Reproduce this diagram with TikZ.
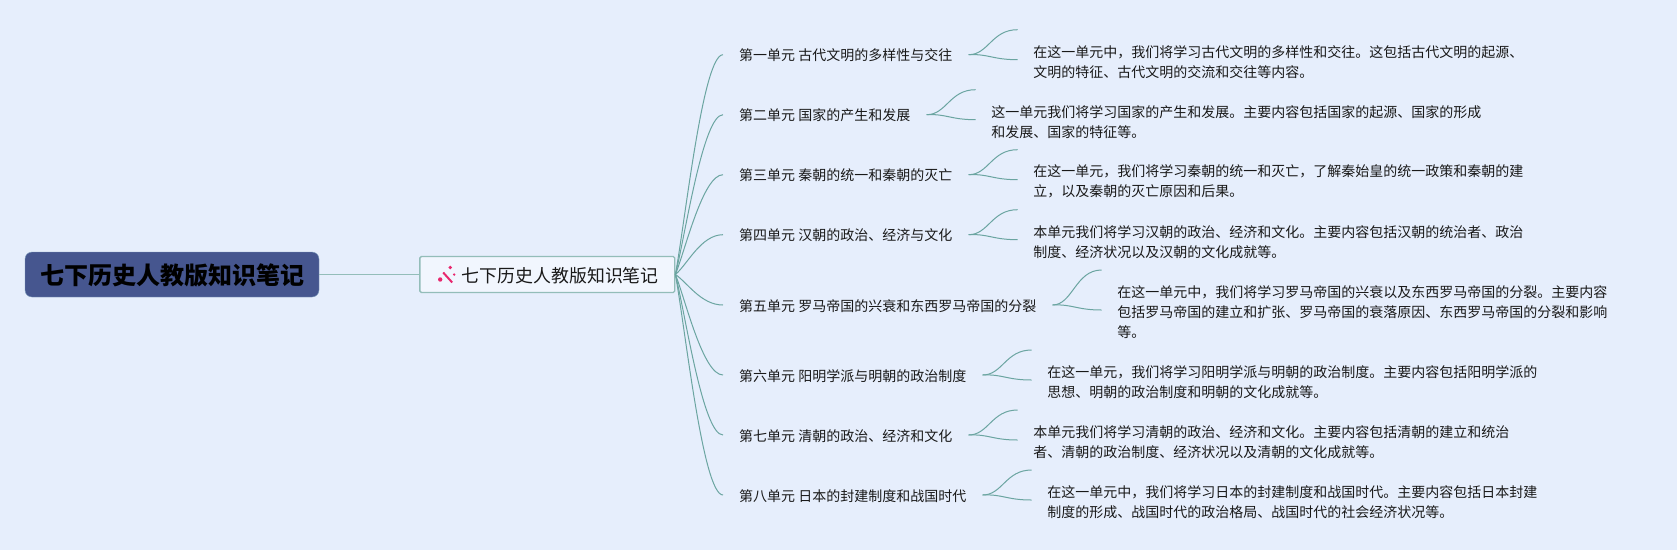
\documentclass[tikz,border=0pt]{standalone}
\usepackage{fontspec}
\setmainfont{Noto Sans CJK SC}
\usetikzlibrary{positioning}
\definecolor{bgblue}{HTML}{E6EEFC}
\definecolor{rootblue}{HTML}{46568F}
\definecolor{rootedge}{HTML}{7E9DBB}
\definecolor{tealline}{HTML}{6BA5A1}
\definecolor{tealedge}{HTML}{93BDB9}
\definecolor{boxfill}{HTML}{F1F6FE}
\definecolor{sparkpink}{HTML}{E8286E}
\tikzstyle{rootnode} = [draw=rootedge, fill=rootblue, rounded corners=7pt, minimum width=294pt, minimum height=45pt, inner sep=0pt, text height=22pt, text depth=3pt, font=\fontsize{24}{28}\selectfont\bfseries, text=black]
\tikzstyle{topicnode} = [draw=tealedge, line width=1.3pt, fill=boxfill, rounded corners=1.5pt, minimum height=36pt, inner xsep=16pt, inner ysep=0pt, text height=17pt, text depth=1pt, font=\fontsize{17.9}{22}\selectfont, text=black!90]
\tikzstyle{branch} = [inner xsep=16pt, inner ysep=2pt, text height=13pt, text depth=1pt, font=\fontsize{14}{20}\selectfont, text=black!90]
\tikzstyle{detail} = [inner xsep=15.5pt, inner ysep=2pt, align=left, font=\fontsize{14}{20}\selectfont, text=black!90]
\tikzstyle{line} = [tealline, line width=1pt]
\begin{document}
\begin{tikzpicture}[x=1pt,y=-1pt]
            \useasboundingbox[fill=bgblue] (0,0) rectangle (1677,550);
            \node[rootnode] (root) at (172,274.5) {七下历史人教版知识笔记};
            \node[topicnode, right=100pt of root] (topic) {\hspace{26pt}七下历史人教版知识笔记};
            \draw[tealedge, line width=1.3pt] (root) -- (topic);

            % icon of the topic
            \draw[sparkpink, line width=2pt] ([shift={(24,-2)}]topic.west) -- ([shift={(33,8)}]topic.west);
            \fill[sparkpink] ([shift={(31,-7)}]topic.west) circle (1.9pt);
            \fill[sparkpink] ([shift={(21,5)}]topic.west) circle (2.2pt);
            \fill[sparkpink] ([shift={(35,0)}]topic.west) circle (1.3pt);

            \node[branch, anchor=west] (b1) at (723,54.7) {第一单元 古代文明的多样性与交往};
            \node[branch, anchor=west] (b2) at (723,114.7) {第二单元 国家的产生和发展};
            \node[branch, anchor=west] (b3) at (723,174.7) {第三单元 秦朝的统一和秦朝的灭亡};
            \node[branch, anchor=west] (b4) at (723,234.7) {第四单元 汉朝的政治、经济与文化};
            \node[branch, anchor=west] (b5) at (723,305) {第五单元 罗马帝国的兴衰和东西罗马帝国的分裂};
            \node[branch, anchor=west] (b6) at (723,375) {第六单元 阳明学派与明朝的政治制度};
            \node[branch, anchor=west] (b7) at (723,435) {第七单元 清朝的政治、经济和文化};
            \node[branch, anchor=west] (b8) at (723,495) {第八单元 日本的封建制度和战国时代};

            \node[detail, right=49pt of b1.east, yshift=-7pt] (d1) {在这一单元中，我们将学习古代文明的多样性和交往。这包括古代文明的起源、\\文明的特征、古代文明的交流和交往等内容。};
            \node[detail, right=49pt of b2.east, yshift=-7pt] (d2) {这一单元我们将学习国家的产生和发展。主要内容包括国家的起源、国家的形成\\和发展、国家的特征等。};
            \node[detail, right=49pt of b3.east, yshift=-7pt] (d3) {在这一单元，我们将学习秦朝的统一和灭亡，了解秦始皇的统一政策和秦朝的建\\立，以及秦朝的灭亡原因和后果。};
            \node[detail, right=49pt of b4.east, yshift=-7pt] (d4) {本单元我们将学习汉朝的政治、经济和文化。主要内容包括汉朝的统治者、政治\\制度、经济状况以及汉朝的文化成就等。};
            \node[detail, right=49pt of b5.east, yshift=-7pt] (d5) {在这一单元中，我们将学习罗马帝国的兴衰以及东西罗马帝国的分裂。主要内容\\包括罗马帝国的建立和扩张、罗马帝国的衰落原因、东西罗马帝国的分裂和影响\\等。};
            \node[detail, right=49pt of b6.east, yshift=-7pt] (d6) {在这一单元，我们将学习阳明学派与明朝的政治制度。主要内容包括阳明学派的\\思想、明朝的政治制度和明朝的文化成就等。};
            \node[detail, right=49pt of b7.east, yshift=-7pt] (d7) {本单元我们将学习清朝的政治、经济和文化。主要内容包括清朝的建立和统治\\者、清朝的政治制度、经济状况以及清朝的文化成就等。};
            \node[detail, right=49pt of b8.east, yshift=-7pt] (d8) {在这一单元中，我们将学习日本的封建制度和战国时代。主要内容包括日本封建\\制度的形成、战国时代的政治格局、战国时代的社会经济状况等。};

            % free ends of the upper twigs
            \coordinate[above=32pt of d1.west] (t1);
            \coordinate[above=32pt of d2.west] (t2);
            \coordinate[above=32pt of d3.west] (t3);
            \coordinate[above=32pt of d4.west] (t4);
            \coordinate[above=42pt of d5.west] (t5);
            \coordinate[above=32pt of d6.west] (t6);
            \coordinate[above=32pt of d7.west] (t7);
            \coordinate[above=32pt of d8.west] (t8);

            \draw[line] (topic.east) .. controls +(10,-55) and +(-20,0) .. (b1.west);
            \draw[line] (topic.east) .. controls +(10,-40) and +(-20,0) .. (b2.west);
            \draw[line] (topic.east) .. controls +(10,-25) and +(-20,0) .. (b3.west);
            \draw[line] (topic.east) .. controls +(12,-10) and +(-22,0) .. (b4.west);
            \draw[line] (topic.east) .. controls +(12,8) and +(-22,0) .. (b5.west);
            \draw[line] (topic.east) .. controls +(10,25) and +(-20,0) .. (b6.west);
            \draw[line] (topic.east) .. controls +(10,40) and +(-20,0) .. (b7.west);
            \draw[line] (topic.east) .. controls +(10,55) and +(-20,0) .. (b8.west);

            \draw[line] (b1.east) .. controls +(20,0) and +(-26,0) .. (t1);
            \draw[line] (b1.east) .. controls +(20,-1) and +(-25,0) .. ([yshift=2pt]d1.west);
            \draw[line] (b2.east) .. controls +(20,0) and +(-26,0) .. (t2);
            \draw[line] (b2.east) .. controls +(20,-1) and +(-25,0) .. ([yshift=2pt]d2.west);
            \draw[line] (b3.east) .. controls +(20,0) and +(-26,0) .. (t3);
            \draw[line] (b3.east) .. controls +(20,-1) and +(-25,0) .. ([yshift=2pt]d3.west);
            \draw[line] (b4.east) .. controls +(20,0) and +(-26,0) .. (t4);
            \draw[line] (b4.east) .. controls +(20,-1) and +(-25,0) .. ([yshift=2pt]d4.west);
            \draw[line] (b5.east) .. controls +(20,0) and +(-26,0) .. (t5);
            \draw[line] (b5.east) .. controls +(20,-1) and +(-25,0) .. ([yshift=2pt]d5.west);
            \draw[line] (b6.east) .. controls +(20,0) and +(-26,0) .. (t6);
            \draw[line] (b6.east) .. controls +(20,-1) and +(-25,0) .. ([yshift=2pt]d6.west);
            \draw[line] (b7.east) .. controls +(20,0) and +(-26,0) .. (t7);
            \draw[line] (b7.east) .. controls +(20,-1) and +(-25,0) .. ([yshift=2pt]d7.west);
            \draw[line] (b8.east) .. controls +(20,0) and +(-26,0) .. (t8);
            \draw[line] (b8.east) .. controls +(20,-1) and +(-25,0) .. ([yshift=2pt]d8.west);
        \end{tikzpicture}
\end{document}
